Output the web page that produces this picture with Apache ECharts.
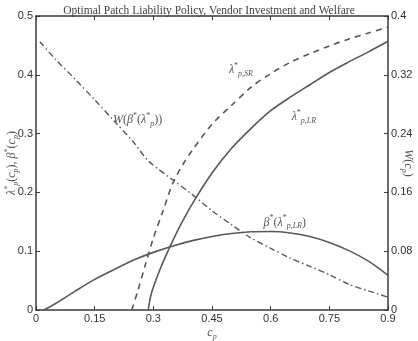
<!DOCTYPE html>
<html>
<head>
<meta charset="utf-8">
<title>Optimal Patch Liability Policy</title>
<script src="https://cdn.jsdelivr.net/npm/echarts@6/dist/echarts.min.js"></script>
<style>
  html, body { margin: 0; padding: 0; background: #fff; }
  #chart { width: 418px; height: 341px; }
</style>
</head>
<body>
<div id="chart"></div>
<script>
// lambda*_p,SR  (dashed)
var cpSR   = [0.245, 0.26, 0.28, 0.3, 0.325, 0.35, 0.375, 0.4, 0.45, 0.5, 0.55, 0.6, 0.65, 0.7, 0.75, 0.8, 0.85, 0.9];
var lamSR  = [0, 0.032, 0.078, 0.122, 0.169, 0.216, 0.247, 0.272, 0.316, 0.348, 0.379, 0.402, 0.421, 0.436, 0.449, 0.461, 0.471, 0.481];
// lambda*_p,LR  (solid)
var cpLR   = [0.287, 0.29, 0.295, 0.305, 0.32, 0.34, 0.37, 0.4, 0.45, 0.5, 0.55, 0.6, 0.65, 0.7, 0.75, 0.8, 0.85, 0.9];
var lamLR  = [0, 0.013, 0.028, 0.048, 0.074, 0.104, 0.145, 0.181, 0.233, 0.275, 0.309, 0.339, 0.362, 0.383, 0.404, 0.422, 0.439, 0.457];
// beta*(lambda*_p,LR)  (solid)
var cpBeta = [0.02, 0.05, 0.1, 0.15, 0.2, 0.25, 0.3, 0.35, 0.4, 0.45, 0.5, 0.55, 0.6, 0.65, 0.7, 0.75, 0.8, 0.85, 0.9];
var beta   = [0, 0.011, 0.032, 0.052, 0.069, 0.085, 0.098, 0.109, 0.118, 0.125, 0.130, 0.133, 0.1335, 0.131, 0.125, 0.115, 0.101, 0.083, 0.059];
// W(beta*(lambda*_p))  (dash-dot, right axis)
var cpW    = [0.01, 0.05, 0.1, 0.15, 0.2, 0.25, 0.287, 0.35, 0.4, 0.45, 0.5, 0.55, 0.6, 0.65, 0.7, 0.75, 0.8, 0.85, 0.9];
var welf   = [0.365, 0.341, 0.314, 0.286, 0.257, 0.228, 0.203, 0.177, 0.157, 0.135, 0.116, 0.098, 0.084, 0.0705, 0.0594, 0.048, 0.035, 0.026, 0.0174];

function pairs(xs, ys) {
    return xs.map(function (x, i) { return [x, ys[i]]; });
}

var lineCol = '#585858';
var axisCol = '#3a3a3a';
var serif = 'Liberation Serif';
var mathRich = {
    i: { fontFamily: serif, fontStyle: 'italic', fontSize: 12, color: '#555', lineHeight: 18, verticalAlign: 'middle' },
    r: { fontFamily: serif, fontSize: 12, color: '#555', lineHeight: 18, verticalAlign: 'middle' },
    s: { fontFamily: serif, fontSize: 8, color: '#555', lineHeight: 18, verticalAlign: 'top', padding: [1, 0, 0, 0] },
    b: { fontFamily: serif, fontStyle: 'italic', fontSize: 8, color: '#555', lineHeight: 18, verticalAlign: 'bottom', padding: [0, 0, 1, 0] }
};

// text note placed in data coordinates
function note(text, c, v) {
    return {
        symbol: 'circle',
        symbolSize: 1,
        itemStyle: { color: 'rgba(0,0,0,0)' },
        data: [{ coord: [c, v], value: 0 }],
        label: { show: true, position: 'inside', formatter: text, rich: mathRich },
        silent: true
    };
}

function ticks() {
    return { show: true, inside: true, length: 4, lineStyle: { color: axisCol, width: 1 } };
}
function axLine() {
    return { show: true, onZero: false, lineStyle: { color: axisCol, width: 1.5 } };
}
function numLabel(m) {
    return { fontFamily: 'Liberation Sans', fontSize: 11, color: '#333', margin: m };
}

var chart = echarts.init(document.getElementById('chart'));
chart.setOption({
    animation: false,
    title: {
        text: 'Optimal Patch Liability Policy, Vendor Investment and Welfare',
        left: 'center',
        top: 0,
        textStyle: { fontFamily: serif, fontSize: 11.5, fontWeight: 'normal', color: '#444' }
    },
    grid: { left: 36, right: 30, top: 16, bottom: 31, containLabel: false, outerBoundsMode: 'none' },
    xAxis: [{
        type: 'value',
        min: 0, max: 0.9, interval: 0.15,
        name: '{i|c}{b|p}',
        nameLocation: 'middle',
        nameGap: 14,
        nameMoveOverlap: false,
        nameTextStyle: { rich: mathRich },
        axisLine: axLine(),
        axisTick: ticks(),
        axisLabel: numLabel(3),
        splitLine: { show: false }
    }, {
        type: 'value',
        position: 'top',
        min: 0, max: 0.9, interval: 0.15,
        axisLine: axLine(),
        axisTick: ticks(),
        axisLabel: { show: false },
        splitLine: { show: false }
    }],
    yAxis: [{
        type: 'value',
        min: 0, max: 0.5, interval: 0.1,
        name: '{i|λ}{s|*}{b|p}{r|(}{i|c}{b|p}{r|), }{i|β}{s|*}{r|(}{i|c}{b|p}{r|)}',
        nameLocation: 'middle',
        nameGap: 15,
        nameRotate: 90,
        nameMoveOverlap: false,
        nameTextStyle: { rich: mathRich },
        axisLine: axLine(),
        axisTick: ticks(),
        axisLabel: numLabel(3),
        splitLine: { show: false }
    }, {
        type: 'value',
        position: 'right',
        min: 0, max: 0.4, interval: 0.08,
        name: '{i|W}{r|(}{i|c}{b|p}{r|)}',
        nameLocation: 'middle',
        nameGap: 11,
        nameRotate: -90,
        nameMoveOverlap: false,
        nameTextStyle: { rich: mathRich },
        axisLine: axLine(),
        axisTick: ticks(),
        axisLabel: Object.assign(numLabel(3), {
            formatter: function (v) { return +v.toFixed(2) + ''; } }),
        splitLine: { show: false }
    }],
    series: [{
        name: 'lambdaSR',
        type: 'line',
        data: pairs(cpSR, lamSR),
        smooth: 0.3,
        showSymbol: false,
        lineStyle: { color: lineCol, width: 1.6, type: [6, 5] },
        markPoint: note('{i|λ}{s|*}{b|p,SR}', 0.524, 0.408)
    }, {
        name: 'lambdaLR',
        type: 'line',
        data: pairs(cpLR, lamLR),
        smooth: 0.3,
        showSymbol: false,
        lineStyle: { color: lineCol, width: 1.6 },
        markPoint: note('{i|λ}{s|*}{b|p,LR}', 0.685, 0.328)
    }, {
        name: 'beta',
        type: 'line',
        data: pairs(cpBeta, beta),
        smooth: 0.3,
        showSymbol: false,
        lineStyle: { color: lineCol, width: 1.6 },
        markPoint: note('{i|β}{s|*}{r|(}{i|λ}{s|*}{b|p,LR}{r|)}', 0.636, 0.149)
    }, {
        name: 'welfare',
        type: 'line',
        yAxisIndex: 1,
        data: pairs(cpW, welf),
        smooth: 0.3,
        showSymbol: false,
        lineStyle: { color: lineCol, width: 1.4, type: [6, 3, 1.5, 3] },
        markPoint: note('{i|W}{r|(}{i|β}{s|*}{r|(}{i|λ}{s|*}{b|p}{r|))}', 0.26, 0.259)
    }]
});
</script>
</body>
</html>
